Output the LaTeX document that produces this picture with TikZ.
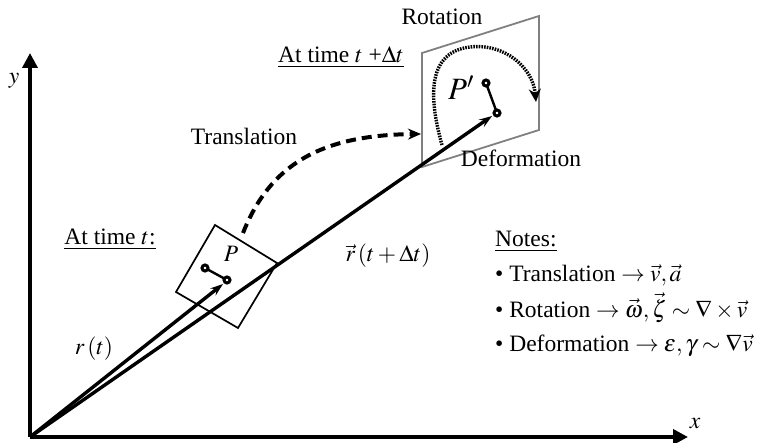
\documentclass[tikz,border=0pt]{standalone}
\usepackage{mathptmx}
\usepackage[no-math]{fontspec}
\setmainfont{Liberation Serif}
\usetikzlibrary{arrows.meta}
\tikzset{
  every node/.style={font=\fontsize{23.5}{28}\selectfont, inner sep=0pt},
  axisline/.style={line width=3.6pt, -{Triangle[length=15pt,width=15pt]}},
  vecline/.style={line width=3.4pt, -{Stealth[length=13pt,width=9pt,inset=5pt]}},
  boxline/.style={line width=1.7pt},
  pbox/.style={line width=1.8pt, draw=black!50},
  joint/.style={circle, draw=black, fill=white, line width=3pt, minimum size=6pt},
  link/.style={line width=2.4pt},
  transarrow/.style={line width=4pt, dash pattern=on 10pt off 6pt, -{Stealth[length=13pt,width=11pt]}},
  rotarrow/.style={line width=3.4pt, dash pattern=on 1.6pt off 1.1pt, -{Stealth[length=13pt,width=12pt]}},
  lbl/.style={anchor=base}
}
\begin{document}
\begin{tikzpicture}[x=1pt,y=-1pt]
\useasboundingbox (0,0) rectangle (765,443);
% axes
\coordinate (O) at (30,437);
\coordinate (ytip) at (30,53);
\coordinate (xtip) at (688,437);
\draw[axisline] (O) -- (ytip);
\draw[axisline] (O) -- (xtip);
\node[lbl] (ylab) at (14,84) {$y$};
\node[lbl] (xlab) at (695,428) {$x$};
% square at time t
\draw[boxline] (215,225) -- (277,263) -- (238,328) -- (176,292) -- cycle;
% parallelogram at time t+dt
\draw[pbox] (422,53) -- (539,16) -- (539,130) -- (422,167) -- cycle;
% dumbbell at t
\draw[link] (205,268) -- (227,280);
\node[joint] (p1) at (205,268) {};
\node[joint] (p2) at (227,280) {};
% dumbbell at t+dt
\draw[link] (486,83) -- (497,113);
\node[joint] (q1) at (486,83) {};
\node[joint] (q2) at (497,113) {};
% position vectors
\coordinate (rtip) at (223,284);
\coordinate (rdtip) at (492,116);
\draw[vecline] (O) -- (rtip);
\draw[vecline] (O) -- (rdtip);
% translation arrow
\coordinate (ts) at (243,233);
\coordinate (te) at (421,134);
\draw[transarrow] (ts) .. controls (270,165) and (320,135) .. (te);
% rotation arrow
\coordinate (rs) at (442,145);
\coordinate (rm) at (470,47);
\coordinate (re) at (536,102);
\draw[rotarrow] (rs) .. controls (428,95) and (428,52) .. (rm) .. controls (505,43) and (533,68) .. (re);
% labels
\node[lbl] (rot) at (442,25) {Rotation};
\node[lbl] (tdt) at (341,63) {\underline{At time $t$ +$\Delta t$}};
\node[lbl] (trans) at (244,145) {Translation};
\node[lbl] (def) at (521,167) {Deformation};
\node[lbl, font=\fontsize{31}{36}\selectfont] (Pp) at (461,100) {$P'$};
\node[lbl] (P) at (231,262) {$P$};
\node[lbl] (tt) at (110,245) {\underline{At time $t$:}};
\node[lbl] (rt) at (94,354) {$r\left(t\right)$};
\node[lbl] (rdt) at (388,262) {$\vec{r}\left(t+\Delta t\right)$};
% notes
\node[lbl, anchor=base west] (notes) at (495,247) {\underline{Notes:}};
\node[lbl, anchor=base west] (n1) at (495,282) {\textbullet\ Translation $\rightarrow \vec{v},\vec{a}$};
\node[lbl, anchor=base west] (n2) at (495,317) {\textbullet\ Rotation $\rightarrow \vec{\omega},\vec{\zeta}\sim\nabla\times\vec{v}$};
\node[lbl, anchor=base west] (n3) at (495,352) {\textbullet\ Deformation $\rightarrow \varepsilon,\gamma\sim\nabla\vec{v}$};
\end{tikzpicture}
\end{document}
